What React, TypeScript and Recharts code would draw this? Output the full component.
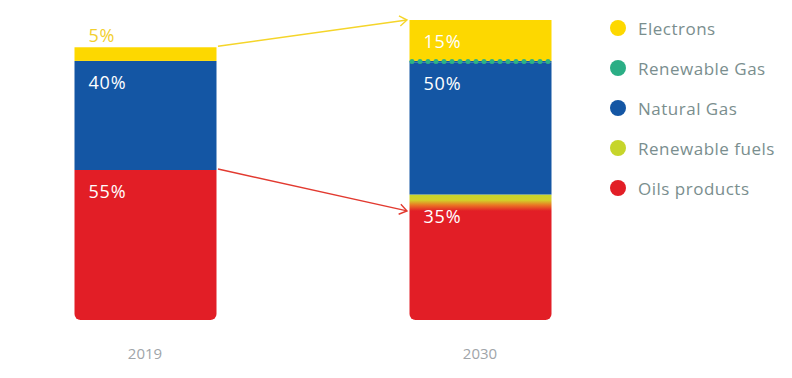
import React from "react";
import { BarChart, Bar, XAxis, YAxis, LabelList, Legend, ReferenceLine } from "recharts";

const years = ["2019", "2030"];
const oils = [55, 40];
const renewableFuels = [0, 6];
const naturalGas = [40, 48.5];
const renewableGas = [0, 0.5];
const electrons = [5, 15];

const oilsLabels = ["55%", ""];
const fuelsLabels = ["", "35%"];
const naturalGasLabels = ["40%", "50%"];
const electronsLabels = ["5%", "15%"];

const legendNames = ["Electrons", "Renewable Gas", "Natural Gas", "Renewable fuels", "Oils products"];
const legendColors = ["#FDD800", "#2BAE85", "#1456A4", "#C6D52B", "#E21E26"];

const YELLOW = "#FDD800";
const GREEN = "#2DB383";
const BLUE = "#1456A4";
const RED = "#E21E26";
const FONT = "'Open Sans', sans-serif";
const BAR_SIZE = 142;

const data = years.map((y, i) => ({
  year: y,
  oils: oils[i],
  fuels: renewableFuels[i],
  gas: naturalGas[i],
  rgas: renewableGas[i],
  electrons: electrons[i],
  oilsLabel: oilsLabels[i],
  fuelsLabel: fuelsLabels[i],
  gasLabel: naturalGasLabels[i],
  electronsLabel: electronsLabels[i],
}));

const totals = years.map((_, i) => oils[i] + renewableFuels[i] + naturalGas[i] + renewableGas[i] + electrons[i]);

const makeLabel = (outsideColor: string) => (props: any) => {
  const { x, y, height, value } = props;
  if (!value) return null;
  const outside = height < 15;
  return (
    <text
      x={x + 14}
      y={outside ? y - 5 : y + 28}
      fill={outside ? outsideColor : "#ffffff"}
      fontSize={18}
      fontFamily={FONT}
      letterSpacing={0.8}
    >
      {value}
    </text>
  );
};

const ElectronsShape = (props: any) => {
  const { x, y, width, height, payload } = props;
  if (!height || height <= 0) return null;
  const hasRGas = payload && payload.rgas > 0;
  return (
    <g>
      <rect x={x} y={y} width={width} height={height} fill={YELLOW} />
      {hasRGas && (
        <line
          x1={x + 2.5}
          x2={x + width}
          y1={y + height + 0.5}
          y2={y + height + 0.5}
          stroke={GREEN}
          strokeWidth={5}
          strokeLinecap="round"
          strokeDasharray="0 8"
        />
      )}
    </g>
  );
};

const makeArrow = (color: string) => (props: any) => {
  const { x1, y1, x2, y2 } = props;
  const sx = x1 + BAR_SIZE / 2 + 2;
  const ex = x2 - BAR_SIZE / 2 - 2;
  const sy = y1 - 1;
  const ey = y2;
  const ang = Math.atan2(ey - sy, ex - sx);
  const L = 9;
  const a1 = ang + Math.PI - 0.6;
  const a2 = ang + Math.PI + 0.6;
  return (
    <g>
      <line x1={sx} y1={sy} x2={ex} y2={ey} stroke={color} strokeWidth={1.4} />
      <polyline
        points={`${ex + L * Math.cos(a1)},${ey + L * Math.sin(a1)} ${ex},${ey} ${ex + L * Math.cos(a2)},${ey + L * Math.sin(a2)}`}
        fill="none"
        stroke={color}
        strokeWidth={1.4}
      />
    </g>
  );
};

const LegendContent = () => (
  <div style={{ fontFamily: FONT }}>
    {legendNames.map((n, i) => (
      <div key={n} style={{ display: "flex", alignItems: "center", height: 40 }}>
        <div
          style={{
            width: 16,
            height: 16,
            borderRadius: 8,
            background: legendColors[i],
            marginRight: 12,
          }}
        />
        <span style={{ color: "#7A8E8E", fontSize: 17, letterSpacing: 0.5 }}>{n}</span>
      </div>
    ))}
  </div>
);

export default function App() {
  return (
    <div style={{ width: 776, height: 360, fontFamily: FONT }}>
      <BarChart
        width={776}
        height={360}
        data={data}
        margin={{ top: 12, right: 136.5, bottom: 0, left: -30.5 }}
        barSize={BAR_SIZE}
      >
        <defs>
          <linearGradient id="fuelsGrad" x1="0" y1="0" x2="0" y2="1">
            <stop offset="0%" stopColor="#C6D52B" />
            <stop offset="35%" stopColor="#D3CF2A" />
            <stop offset="65%" stopColor="#EA7524" />
            <stop offset="100%" stopColor={RED} />
          </linearGradient>
        </defs>
        <XAxis
          dataKey="year"
          axisLine={false}
          tickLine={false}
          tickMargin={22}
          height={48}
          tick={{ fill: "#A0A5A9", fontSize: 15, fontFamily: FONT }}
        />
        <YAxis hide domain={[0, 110]} />
        <Legend
          layout="vertical"
          align="center"
          verticalAlign="middle"
          content={<LegendContent />}
          wrapperStyle={{ left: 602, top: 0, width: 180, height: 200 }}
        />
        <Bar dataKey="oils" stackId="s" fill={RED} radius={[0, 0, 6, 6]} isAnimationActive={false}>
          <LabelList dataKey="oilsLabel" content={makeLabel(RED)} />
        </Bar>
        <Bar dataKey="fuels" stackId="s" fill="url(#fuelsGrad)" isAnimationActive={false}>
          <LabelList dataKey="fuelsLabel" content={makeLabel(RED)} />
        </Bar>
        <Bar dataKey="gas" stackId="s" fill={BLUE} isAnimationActive={false}>
          <LabelList dataKey="gasLabel" content={makeLabel(BLUE)} />
        </Bar>
        <Bar dataKey="rgas" stackId="s" fill={BLUE} isAnimationActive={false} />
        <Bar dataKey="electrons" stackId="s" fill={YELLOW} shape={<ElectronsShape />} isAnimationActive={false}>
          <LabelList dataKey="electronsLabel" content={makeLabel("#F2CF2E")} />
        </Bar>
        <ReferenceLine
          segment={[
            { x: years[0], y: totals[0] },
            { x: years[1], y: totals[1] },
          ]}
          shape={makeArrow("#F5D52A")}
        />
        <ReferenceLine
          segment={[
            { x: years[0], y: oils[0] },
            { x: years[1], y: oils[1] },
          ]}
          shape={makeArrow("#E23A30")}
        />
      </BarChart>
    </div>
  );
}
